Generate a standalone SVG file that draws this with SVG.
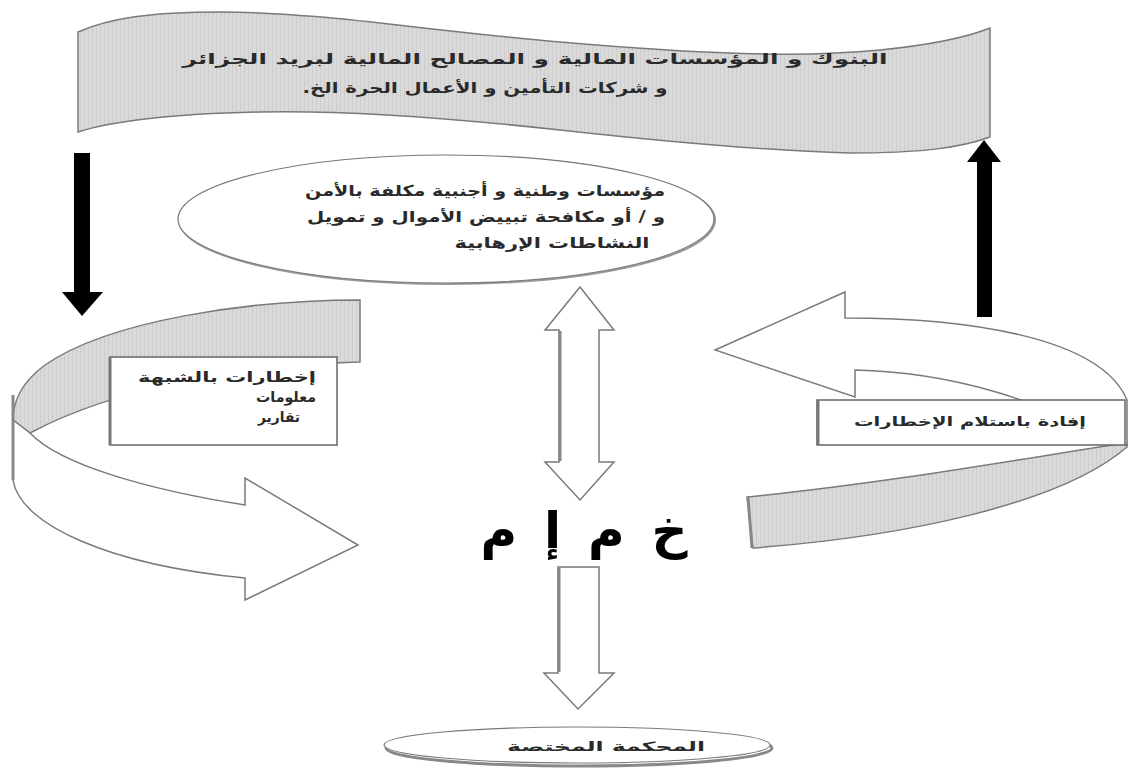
<svg xmlns="http://www.w3.org/2000/svg" width="1131" height="773" viewBox="0 0 1131 773">
<defs>
<pattern id="stripe" width="4" height="4" patternUnits="userSpaceOnUse">
<rect width="4" height="4" fill="#dadada"/>
<rect width="1" height="4" fill="#cdcdcd"/>
</pattern>
<style>
.gray{fill:url(#stripe);stroke:#7a7a7a;stroke-width:1.5}
.white{fill:#fff;stroke:#7a7a7a;stroke-width:1.5}
.box{fill:#fff;stroke:#666;stroke-width:1.5}
.black{fill:#000;stroke:none}
.t{font-family:"DejaVu Sans",sans-serif;font-weight:bold;fill:#2a2a2a}
</style>
</defs>
<rect width="1131" height="773" fill="#fff"/>

<g id="banner">
<path class="gray" d="M78,32 C110,18 150,12 220,12 C320,12 420,30 560,42 C700,54 800,58 880,50 C940,44 970,36 990,28 L990,137 C960,148 920,153 850,153 C750,150 650,140 560,130 C450,118 350,110 260,112 C170,114 110,122 78,132 Z"/>
<text class="t" x="535" y="64" font-size="15" text-anchor="middle" direction="rtl" textLength="705" lengthAdjust="spacingAndGlyphs">البنوك و المؤسسات المالية و المصالح المالية لبريد الجزائر</text>
<text class="t" x="485" y="93" font-size="15" text-anchor="middle" direction="rtl" textLength="365" lengthAdjust="spacingAndGlyphs">و شركات التأمين  و الأعمال الحرة الخ.</text>
</g>

<g id="security-bodies">
<ellipse cx="447" cy="220" rx="268" ry="64" fill="#fff" stroke="#999" stroke-width="2"/>
<ellipse cx="446" cy="219" rx="268" ry="64" fill="#fff" stroke="#7a7a7a" stroke-width="1.2"/>
<text class="t" x="485" y="196" font-size="15" text-anchor="middle" direction="rtl" textLength="360" lengthAdjust="spacingAndGlyphs">مؤسسات وطنية و أجنبية مكلفة بالأمن</text>
<text class="t" x="486" y="222" font-size="15" text-anchor="middle" direction="rtl" textLength="358" lengthAdjust="spacingAndGlyphs">و / أو مكافحة تبييض الأموال و تمويل</text>
<text class="t" x="552" y="248" font-size="15" text-anchor="middle" direction="rtl" textLength="195" lengthAdjust="spacingAndGlyphs">النشاطات الإرهابية</text>
</g>

<g id="left-loop">
<path class="gray" d="M360,300 C250,300 110,320 45,365 C22,382 13,400 13,420 L30,433 C120,385 250,365 360,362 Z"/>
<path class="white" d="M13,420 L13,480 C20,525 110,565 245,578 L245,600 L358,545 L245,478 L245,505 C150,490 60,465 30,433 Z"/>
<line x1="13" y1="395" x2="13" y2="480" stroke="#888" stroke-width="3"/>
</g>

<g id="reports-box">
<rect class="box" x="110" y="357" width="227" height="88"/>
<line x1="110" y1="357" x2="110" y2="445" stroke="#777" stroke-width="3"/>
<text class="t" x="316" y="382" font-size="14" text-anchor="end" textLength="178" lengthAdjust="spacingAndGlyphs">إخطارات بالشبهة</text>
<text class="t" x="316" y="402" font-size="14" text-anchor="end" textLength="60" lengthAdjust="spacingAndGlyphs">معلومات</text>
<text class="t" x="300" y="422" font-size="14" text-anchor="end" textLength="42" lengthAdjust="spacingAndGlyphs">تقارير</text>
</g>

<g id="right-loop">
<path class="gray" d="M1127,443 C1060,452 900,482 747,497 L753,548 C900,537 1060,505 1127,447 Z"/>
<line x1="748" y1="497" x2="752" y2="548" stroke="#888" stroke-width="3"/>
<path class="white" d="M715,350 L845,292 L845,318 C960,318 1100,335 1127,400 L1127,445 L1100,440 C1050,402 950,372 855,370 L855,397 Z"/>
</g>

<g id="ack-box">
<rect class="box" x="817" y="400" width="308" height="45"/>
<line x1="818" y1="400" x2="818" y2="445" stroke="#777" stroke-width="3"/>
<text class="t" x="970" y="426" font-size="13" text-anchor="middle" direction="rtl" textLength="232" lengthAdjust="spacingAndGlyphs">إفادة باستلام الإخطارات</text>
</g>

<g id="fiu">
<text x="584" y="548" font-family="DejaVu Sans,sans-serif" font-weight="bold" font-size="50" fill="#000" text-anchor="middle" direction="rtl" textLength="207" lengthAdjust="spacing">خ م إ م</text>
</g>

<g id="court">
<ellipse cx="579" cy="748" rx="193" ry="18" fill="#fff" stroke="#888" stroke-width="3"/>
<ellipse cx="577" cy="745" rx="193" ry="18" fill="#fff" stroke="#7a7a7a" stroke-width="1.2"/>
<text class="t" x="606" y="751" font-size="13" text-anchor="middle" direction="rtl" textLength="198" lengthAdjust="spacingAndGlyphs">المحكمة المختصة</text>
</g>

<g id="connectors">
<path class="black" d="M74,153 L90,153 L90,292 L103,292 L82,316 L62,292 L74,292 Z"/>
<path class="black" d="M977,317 L992,317 L992,162 L1001,162 L984,140 L967,162 L977,162 Z"/>
<path class="white" d="M580,287 L614,330 L599,330 L599,462 L614,462 L580,500 L545,462 L559,462 L559,330 L545,330 Z"/>
<line x1="560" y1="331" x2="560" y2="461" stroke="#888" stroke-width="3"/>
<path class="white" d="M558,567 L599,567 L599,673 L614,673 L578,709 L544,673 L558,673 Z"/>
<line x1="559" y1="568" x2="559" y2="672" stroke="#888" stroke-width="3"/>
</g>
</svg>
